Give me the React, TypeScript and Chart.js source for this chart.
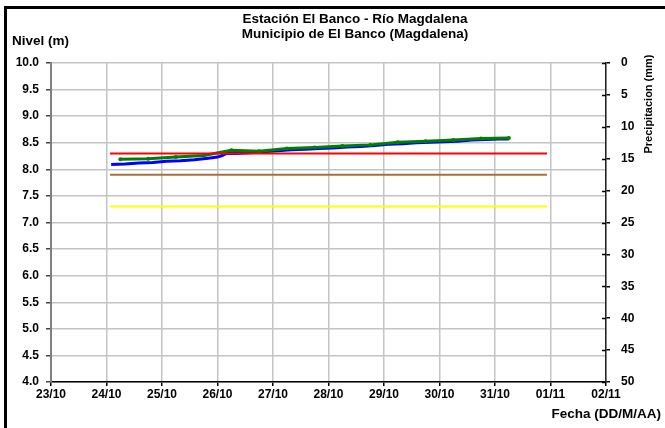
import React, { useEffect, useRef } from "react";
import { Chart, registerables } from "chart.js";
Chart.register(...registerables);

const titleLines = ["Estación El Banco - Río Magdalena", "Municipio de El Banco (Magdalena)"];
const leftAxisTitle = "Nivel (m)";
const rightAxisTitle = "Precipitacion (mm)";
const xAxisTitle = "Fecha (DD/M/AA)";

const xTickLabels = ["23/10", "24/10", "25/10", "26/10", "27/10", "28/10", "29/10", "30/10", "31/10", "01/11", "02/11"];

const blueTimes = [
  "24/10 02:00", "24/10 08:00", "24/10 14:00", "24/10 20:00",
  "25/10 02:00", "25/10 08:00", "25/10 14:00", "25/10 20:00",
  "26/10 00:00", "26/10 02:00", "26/10 04:00", "26/10 08:00", "26/10 14:00", "26/10 20:00",
  "27/10 02:00", "27/10 08:00", "27/10 14:00", "27/10 20:00",
  "28/10 02:00", "28/10 08:00", "28/10 14:00", "28/10 20:00",
  "29/10 02:00", "29/10 08:00", "29/10 14:00", "29/10 20:00",
  "30/10 02:00", "30/10 08:00", "30/10 14:00", "30/10 20:00",
  "31/10 02:00", "31/10 06:00",
];
const blueLevels = [
  8.09, 8.10, 8.12, 8.13,
  8.15, 8.16, 8.18, 8.21,
  8.23, 8.26, 8.30, 8.30, 8.31, 8.33,
  8.35, 8.37, 8.38, 8.39,
  8.40, 8.42, 8.43, 8.45,
  8.47, 8.48, 8.50, 8.51,
  8.52, 8.53, 8.55, 8.56,
  8.57, 8.57,
];

const greenTimes = [
  "24/10 06:00", "24/10 18:00", "25/10 06:00", "25/10 18:00",
  "26/10 06:00", "26/10 18:00", "27/10 06:00", "27/10 18:00",
  "28/10 06:00", "28/10 18:00", "29/10 06:00", "29/10 18:00",
  "30/10 06:00", "30/10 18:00", "31/10 06:00",
];
const greenLevels = [
  8.19, 8.20, 8.23, 8.26,
  8.36, 8.34, 8.39, 8.41,
  8.44, 8.46, 8.51, 8.53,
  8.55, 8.58, 8.59,
];

const thresholdTimes = ["24/10 01:30", "31/10 22:30"];
const redLevel = 8.3;
const brownLevel = 7.9;
const yellowLevel = 7.3;

const FONT = "'Liberation Sans', Arial, sans-serif";

function toDay(s: string): number {
  const [date, time] = s.split(" ");
  const [dd, mm] = date.split("/").map(Number);
  const [hh, mi] = time.split(":").map(Number);
  const base = mm === 10 ? dd - 23 : dd + 31 - 23;
  return base + (hh + mi / 60) / 24;
}

function pts(times: string[], vals: number[]) {
  return times.map((t, i) => ({ x: toDay(t), y: vals[i] }));
}
function flat(level: number) {
  return thresholdTimes.map((t) => ({ x: toDay(t), y: level }));
}

const decor = {
  id: "decor",
  beforeDraw(chart: any) {
    const ctx = chart.ctx;
    ctx.save();
    ctx.fillStyle = "#fff";
    ctx.fillRect(0, 0, chart.width, chart.height);
    ctx.restore();
  },
  afterDraw(chart: any) {
    const ctx = chart.ctx;
    ctx.save();
    // frame
    ctx.strokeStyle = "#000";
    ctx.lineWidth = 3;
    ctx.strokeRect(5.5, 7.5, 800, 600);
    // titles
    ctx.fillStyle = "#000";
    ctx.font = `bold 13.5px ${FONT}`;
    ctx.textAlign = "center";
    ctx.textBaseline = "middle";
    ctx.fillText(titleLines[0], 355, 19);
    ctx.fillText(titleLines[1], 355, 34);
    ctx.textAlign = "left";
    ctx.fillText(leftAxisTitle, 12, 41);
    ctx.textAlign = "right";
    ctx.fillText(xAxisTitle, 661, 414);
    // right axis title
    ctx.save();
    ctx.translate(649, 104);
    ctx.rotate(-Math.PI / 2);
    ctx.textAlign = "center";
    ctx.font = `bold 11px ${FONT}`;
    ctx.fillText(rightAxisTitle, 0, 0);
    ctx.restore();
    // inner ticks on right axis
    const s = chart.scales.y2;
    const right = chart.chartArea.right;
    ctx.strokeStyle = "#000";
    ctx.lineWidth = 1.5;
    for (let v = s.min; v <= s.max; v += 5) {
      const y = Math.round(s.getPixelForValue(v)) + 0.5;
      ctx.beginPath();
      ctx.moveTo(right - 4, y);
      ctx.lineTo(right, y);
      ctx.stroke();
    }
    ctx.restore();
  },
};

export default function App() {
  const ref = useRef<HTMLCanvasElement>(null);
  useEffect(() => {
    if (!ref.current) return;
    const tickFont = { family: FONT, size: 12, weight: "bold" as const };
    const chart = new Chart(ref.current, {
      type: "line",
      data: {
        datasets: [
          { label: "red", data: flat(redLevel), borderColor: "#ff0000", borderWidth: 2, pointRadius: 0 },
          { label: "brown", data: flat(brownLevel), borderColor: "#a86f3c", borderWidth: 2, pointRadius: 0 },
          { label: "yellow", data: flat(yellowLevel), borderColor: "#ffff00", borderWidth: 2, pointRadius: 0 },
          {
            label: "green", data: pts(greenTimes, greenLevels), borderColor: "#008000", backgroundColor: "#008000",
            borderWidth: 3, pointRadius: 2, pointBorderWidth: 0,
          },
          { label: "blue", data: pts(blueTimes, blueLevels), borderColor: "#0000ff", borderWidth: 3, pointRadius: 0 },
        ],
      },
      options: {
        animation: false,
        responsive: false,
        devicePixelRatio: 1,
        layout: { padding: { top: 63, left: 0, right: 0, bottom: 0 } },
        plugins: { legend: { display: false }, tooltip: { enabled: false }, title: { display: false } },
        elements: { line: { tension: 0 } },
        scales: {
          x: {
            type: "linear",
            position: "bottom",
            min: 0,
            max: 10,
            ticks: {
              stepSize: 1,
              autoSkip: false,
              maxRotation: 0,
              font: tickFont,
              color: "#000",
              padding: 1,
              callback: (v: any) => xTickLabels[Math.round(Number(v))] ?? "",
            },
            grid: { color: "#c4c4c4", lineWidth: 1.5, tickLength: 4, tickColor: "#000" },
            border: { color: "#000", width: 1.5 },
            afterFit: (s: any) => { s.height = 46; },
          },
          y: {
            type: "linear",
            position: "left",
            min: 4,
            max: 10,
            ticks: {
              stepSize: 0.5,
              font: tickFont,
              color: "#000",
              padding: 7,
              callback: (v: any) => Number(v).toFixed(1),
            },
            grid: { color: "#c4c4c4", lineWidth: 1.5, tickLength: 5, tickColor: "#444" },
            border: { color: "#808080", width: 2 },
            afterFit: (s: any) => { s.width = 51; },
          },
          y2: {
            type: "linear",
            position: "right",
            min: 0,
            max: 50,
            reverse: true,
            ticks: { stepSize: 5, font: tickFont, color: "#000", padding: 11 },
            grid: { drawOnChartArea: false, tickLength: 4, tickColor: "#000", lineWidth: 1.5 },
            border: { color: "#222", width: 1.5 },
            afterFit: (s: any) => { s.width = 59; },
          },
        },
      } as any,
      plugins: [decor],
    });
    return () => chart.destroy();
  }, []);
  return (
    <div style={{ position: "absolute", left: 0, top: 0, width: 665, height: 428 }}>
      <canvas ref={ref} width={665} height={428} style={{ width: 665, height: 428, display: "block" }} />
    </div>
  );
}
